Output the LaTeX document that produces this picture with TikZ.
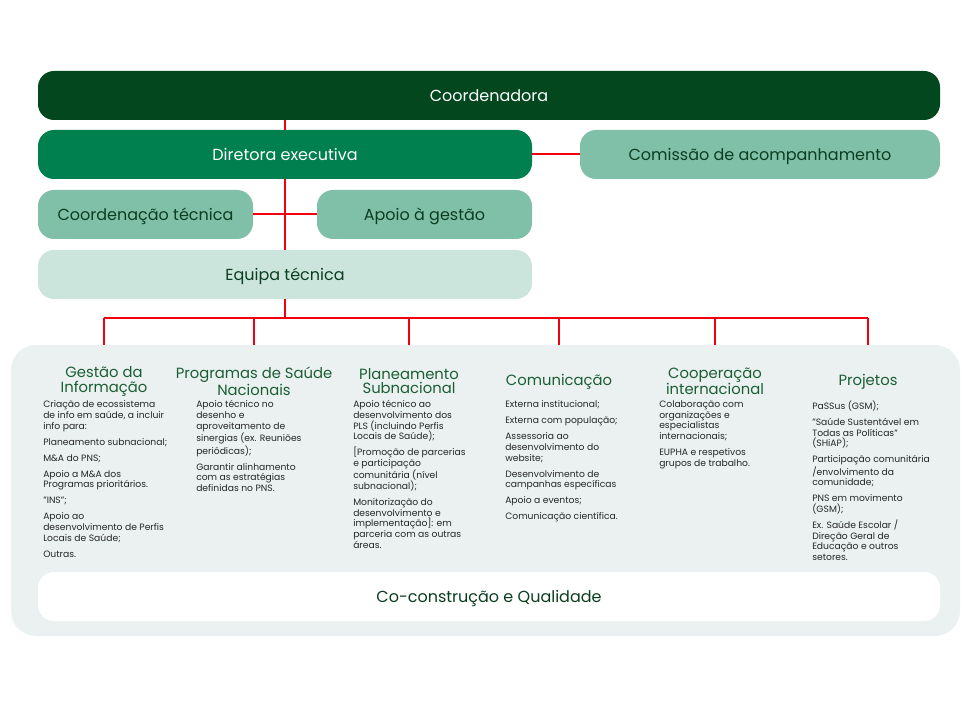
\documentclass[tikz,border=0pt]{standalone}
\usepackage{fontspec}
\setmainfont{Poppins}
\usepackage{xcolor}
\usepackage{tikz}
\usetikzlibrary{positioning, calc}
\definecolor{darkgreen}{HTML}{03471F}
\definecolor{midgreen}{HTML}{00804F}
\definecolor{softgreen}{HTML}{80C0A8}
\definecolor{palegreen}{HTML}{CCE5DC}
\definecolor{panelgrey}{HTML}{EBF1F1}
\definecolor{titlegreen}{HTML}{0B3D20}
\definecolor{headgreen}{HTML}{1B5E35}
\definecolor{linkred}{HTML}{F20010}
\tikzset{
    box/.style={rounded corners=12pt, minimum height=36.75pt, inner sep=0pt, text height=8.6pt, text depth=0pt, font=\fontsize{12}{14}\selectfont, text=titlegreen},
    conn/.style={draw=linkred, line width=1.5pt},
    colhead/.style={align=center, font=\fontsize{11.1}{10.6}\selectfont, text=headgreen, inner sep=0pt},
    colbody/.style={anchor=north west, align=left, font=\fontsize{6.9}{8}\selectfont, text=black!85, inner sep=0pt}
}

\begin{document}
\begin{tikzpicture}[x=0.75pt, y=-0.75pt]
        \useasboundingbox (0,0) rectangle (974,702);
        % Top of the chart
        \node[box, fill=darkgreen, text=white, minimum width=676.5pt] (coord) at (489,95.5) {Coordenadora};
        \node[box, fill=midgreen, text=white, minimum width=370.5pt] (diretora) at (285,154.5) {Diretora executiva};
        \node[box, fill=softgreen, minimum width=270pt] (comissao) at (760,154.5) {Comissão de acompanhamento};
        \node[box, fill=softgreen, minimum width=161.25pt] (coordtec) at (145.5,214.5) {Coordenação técnica};
        \node[box, fill=softgreen, minimum width=161.25pt] (apoio) at (424.5,214.5) {Apoio à gestão};
        \node[box, fill=palegreen, minimum width=370.5pt] (equipa) at (285,274.5) {Equipa técnica};

        % Bottom panel
        \node[rounded corners=18.75pt, fill=panelgrey, minimum width=711.75pt, minimum height=218.25pt, inner sep=0pt] (panel) at (485.5,490.5) {};
        \node[box, fill=white, minimum width=676.5pt] (cocons) at (489,596.5) {Co-construção e Qualidade};

        % Column titles
        \node[colhead] (gestao) at (104,381.5) {Gestão da\\Informação};
        \node[colhead] (programas) at (254,381.5) {Programas de Saúde\\Nacionais};
        \node[colhead] (planeam) at (409,381.5) {Planeamento\\Subnacional};
        \node[colhead] (comunic) at (559,381.5) {Comunicação};
        \node[colhead] (coop) at (715,381.5) {Cooperação\\internacional};
        \node[colhead] (projetos) at (868,381.5) {Projetos};

        % Column texts
        \node[colbody] (gestaotxt) at (43,400.5) {Criação de ecossistema\\de info em saúde, a incluir\\info para:\\[4pt]
            Planeamento subnacional;\\[4pt] M\&A do PNS;\\[4pt] Apoio a M\&A dos\\Programas prioritários.\\[4pt]
            "INS";\\[4pt] Apoio ao\\desenvolvimento de Perfis\\Locais de Saúde;\\[4pt] Outras.};
        \node[colbody] (programastxt) at (196,400.5) {Apoio técnico no\\desenho e\\aproveitamento de\\sinergias (ex. Reuniões\\periódicas);\\[4pt]
            Garantir alinhamento\\com as estratégias\\definidas no PNS.};
        \node[colbody] (planeamtxt) at (353,400.5) {Apoio técnico ao\\desenvolvimento dos\\PLS (incluindo Perfis\\Locais de Saúde);\\[4pt]
            [Promoção de parcerias\\e participação\\comunitária (nível\\subnacional);\\[4pt]
            Monitorização do\\desenvolvimento e\\implementação]: em\\parceria com as outras\\áreas.};
        \node[colbody] (comunictxt) at (505,400.5) {Externa institucional;\\[4pt] Externa com população;\\[4pt]
            Assessoria ao\\desenvolvimento do\\website;\\[4pt] Desenvolvimento de\\campanhas específicas\\[4pt]
            Apoio a eventos;\\[4pt] Comunicação científica.};
        \node[colbody] (cooptxt) at (659,400.5) {Colaboração com\\organizações e\\especialistas\\internacionais;\\[4pt]
            EUPHA e respetivos\\grupos de trabalho.};
        \node[colbody] (projetostxt) at (812,400.5) {PaSSus (GSM);\\[4pt] "Saúde Sustentável em\\Todas as Políticas"\\(SHiAP);\\[4pt]
            Participação comunitária\\/envolvimento da\\comunidade;\\[4pt] PNS em movimento\\(GSM);\\[4pt]
            Ex. Saúde Escolar /\\Direção Geral de\\Educação e outros\\setores.};

        % Connectors
        \coordinate (bus) at (285,318);
        \draw[conn] (diretora.north) -- (diretora.north |- coord.south);
        \draw[conn] (diretora.east) -- (comissao.west);
        \draw[conn] (coordtec.east) -- (apoio.west);
        \draw[conn] (diretora.south) -- (equipa.north);
        \draw[conn] (equipa.south) -- (bus);
        \draw[conn] (gestao |- bus) -- (projetos |- bus);
        \foreach \col in {gestao, programas, planeam, comunic, coop, projetos}
            \draw[conn] (\col |- bus) -- (\col |- panel.north);
    \end{tikzpicture}
\end{document}
